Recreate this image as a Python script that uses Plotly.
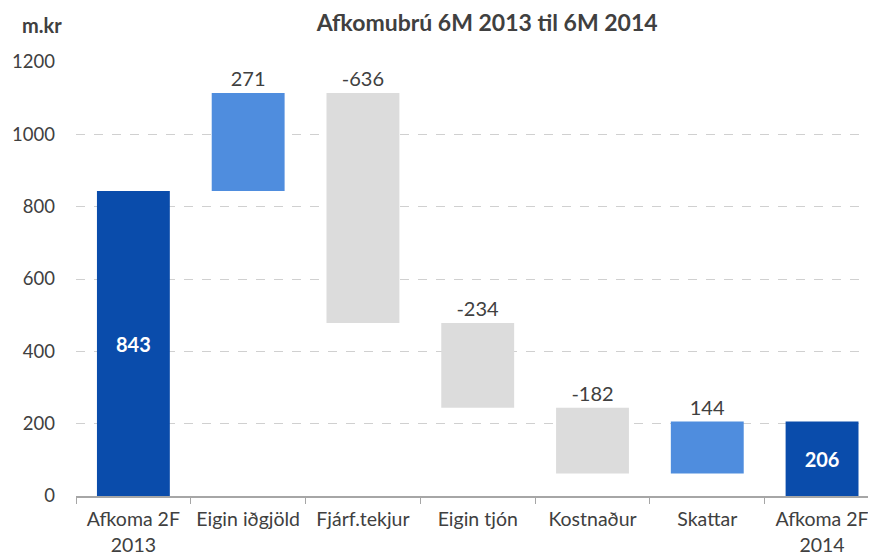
import plotly.graph_objs as go

categories = ["Afkoma 2F<br>2013", "Eigin iðgjöld", "Fjárf.tekjur", "Eigin tjón",
              "Kostnaður", "Skattar", "Afkoma 2F<br>2014"]
changes = [843, 271, -636, -234, -182, 144, 206]
kinds = ["total", "up", "down", "down", "down", "up", "total"]

colors = {"total": "#0A4CAB", "up": "#4F8DDE", "down": "#DCDCDC"}

# running total -> bar bottom + height
bases, heights = [], []
level = 0
for v, k in zip(changes, kinds):
    if k == "total":
        bases.append(0)
        heights.append(v)
        level = v
    else:
        bases.append(min(level, level + v))
        heights.append(abs(v))
        level += v

font = "Lato, 'Open Sans', sans-serif"

trace = go.Bar(
    x=categories, y=heights, base=bases,
    marker=dict(color=[colors[k] for k in kinds], line=dict(width=0)),
    width=0.635,
    text=[str(v) for v in changes],
    textposition=["inside" if k == "total" else "outside" for k in kinds],
    insidetextanchor="middle",
    insidetextfont=dict(color="white", size=20, family=font, weight="bold"),
    outsidetextfont=dict(color="#404040", size=20, family=font),
    cliponaxis=False,
    hoverinfo="skip",
)

# page body has an 8px margin, so the figure is 8px smaller than the window
layout = go.Layout(
    width=868, height=550,
    margin=dict(l=68, r=0, t=54, b=62),
    paper_bgcolor="white", plot_bgcolor="white",
    font=dict(family=font, color="#595959", size=19),
    showlegend=False,
    title=dict(text="<b>Afkomubrú 6M 2013 til 6M 2014</b>", x=0.552, xanchor="center",
               y=0.972, yanchor="middle", font=dict(size=23, color="#404040")),
    xaxis=dict(type="category", range=[-0.5, 6.47], tickson="boundaries",
               ticks="outside", ticklen=6, tickcolor="#A6A6A6", tickangle=0,
               showline=True, linecolor="#A6A6A6", linewidth=1.5,
               showgrid=False, ticklabelstandoff=5, automargin=False,
               tickfont=dict(size=19.5, color="#404040")),
    yaxis=dict(range=[0, 1200], dtick=200, showgrid=True, gridcolor="#D0D0D0",
               griddash="dash", gridwidth=1, zeroline=False, showline=False,
               automargin=False,
               ticks="", ticklabelstandoff=20, tickfont=dict(size=18.5, color="#404040")),
    annotations=[dict(text="<b>m.kr</b>", xref="paper", yref="paper", x=-0.042, y=1.085,
                      xanchor="center", yanchor="middle", showarrow=False,
                      font=dict(size=20, color="#404040"))],
)

fig = go.Figure(data=[trace], layout=layout)
fig.write_html("out.html")
